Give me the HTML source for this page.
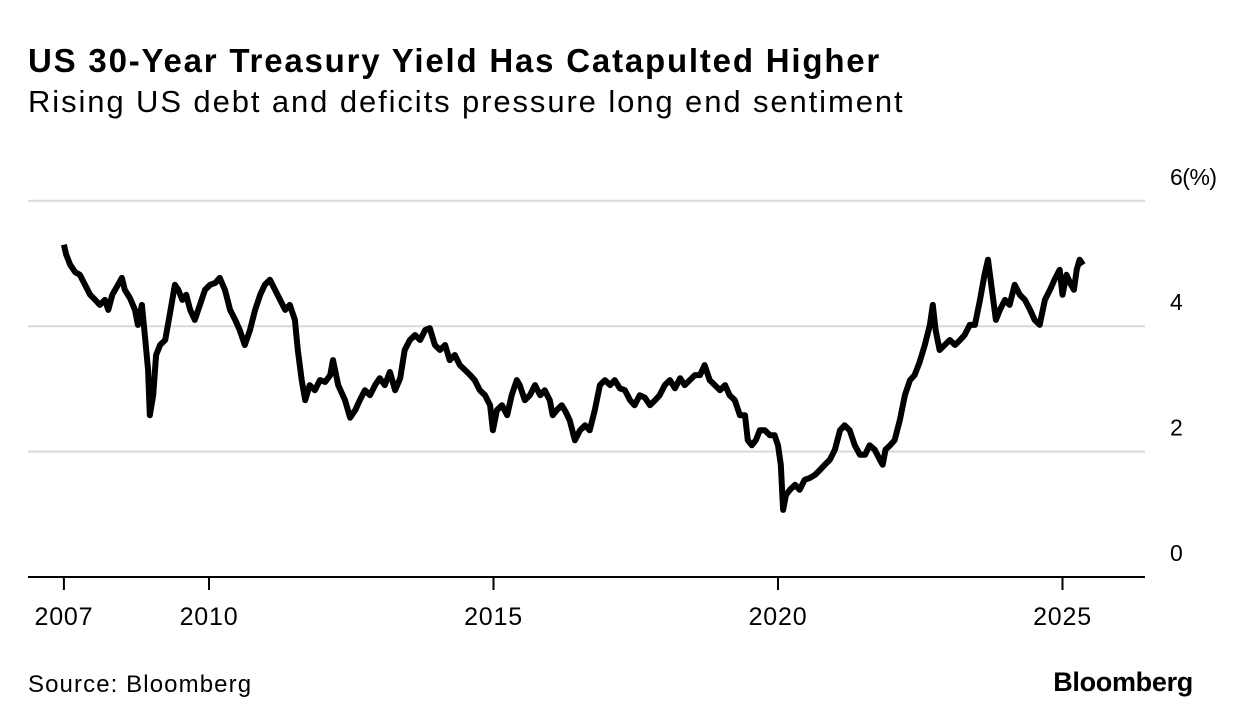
<!DOCTYPE html>
<html><head><meta charset="utf-8">
<style>
body{margin:0;background:#fff;width:1233px;height:726px;overflow:hidden;font-family:"Liberation Sans",sans-serif;}
.t{position:absolute;left:28px;top:42px;font-size:33px;font-weight:bold;color:#000;letter-spacing:1.8px}
.s{position:absolute;left:28px;top:84px;font-size:31px;color:#000;letter-spacing:1.9px}
.src{position:absolute;left:28px;top:671px;font-size:24px;color:#000;letter-spacing:1.1px}
.bb{position:absolute;right:40px;top:667px;font-size:27px;font-weight:bold;color:#000;letter-spacing:-0.3px}
</style></head><body>
<div class="t">US 30-Year Treasury Yield Has Catapulted Higher</div>
<div class="s">Rising US debt and deficits pressure long end sentiment</div>
<svg id="c" width="1233" height="726" style="position:absolute;left:0;top:0"></svg>
<div class="src">Source: Bloomberg</div>
<div class="bb">Bloomberg</div>
<script>
const dates=[2007.45,2007.49,2007.56,2007.65,2007.73,2007.82,2007.91,2008.00,2008.08,2008.17,2008.23,2008.30,2008.40,2008.47,2008.52,2008.61,2008.70,2008.75,2008.82,2008.88,2008.93,2008.96,2009.02,2009.07,2009.14,2009.23,2009.31,2009.40,2009.46,2009.53,2009.60,2009.67,2009.75,2009.84,2009.93,2010.02,2010.11,2010.19,2010.28,2010.37,2010.46,2010.54,2010.63,2010.72,2010.81,2010.90,2010.98,2011.07,2011.16,2011.25,2011.34,2011.42,2011.51,2011.56,2011.63,2011.69,2011.77,2011.86,2011.95,2012.04,2012.13,2012.18,2012.27,2012.39,2012.48,2012.57,2012.65,2012.74,2012.83,2012.92,2013.00,2013.09,2013.18,2013.27,2013.36,2013.44,2013.53,2013.62,2013.71,2013.80,2013.88,2013.97,2014.06,2014.15,2014.23,2014.32,2014.41,2014.50,2014.59,2014.67,2014.76,2014.85,2014.94,2014.99,2015.06,2015.15,2015.24,2015.32,2015.41,2015.46,2015.55,2015.64,2015.73,2015.82,2015.90,2015.99,2016.04,2016.11,2016.20,2016.27,2016.34,2016.43,2016.52,2016.61,2016.69,2016.78,2016.87,2016.96,2017.05,2017.13,2017.22,2017.31,2017.40,2017.48,2017.57,2017.66,2017.75,2017.84,2017.92,2018.01,2018.10,2018.19,2018.28,2018.36,2018.45,2018.54,2018.63,2018.71,2018.80,2018.89,2018.98,2019.07,2019.15,2019.24,2019.33,2019.42,2019.47,2019.54,2019.61,2019.68,2019.77,2019.86,2019.94,2020.00,2020.05,2020.09,2020.14,2020.21,2020.30,2020.38,2020.47,2020.56,2020.65,2020.74,2020.82,2020.91,2021.00,2021.09,2021.17,2021.26,2021.35,2021.44,2021.53,2021.61,2021.70,2021.79,2021.84,2021.89,2021.97,2022.05,2022.14,2022.23,2022.32,2022.40,2022.49,2022.58,2022.67,2022.72,2022.77,2022.84,2022.93,2023.02,2023.11,2023.20,2023.28,2023.37,2023.46,2023.55,2023.63,2023.69,2023.76,2023.83,2023.90,2023.99,2024.07,2024.16,2024.25,2024.34,2024.43,2024.51,2024.60,2024.69,2024.78,2024.86,2024.95,2025.00,2025.07,2025.15,2025.20,2025.25,2025.30,2025.36];
const yields=[5.30,5.14,4.98,4.86,4.82,4.66,4.50,4.42,4.34,4.42,4.26,4.50,4.66,4.77,4.58,4.45,4.26,4.02,4.34,3.78,3.30,2.58,2.90,3.54,3.70,3.78,4.18,4.66,4.58,4.42,4.50,4.26,4.10,4.34,4.58,4.66,4.69,4.77,4.58,4.26,4.10,3.94,3.70,3.94,4.26,4.50,4.66,4.74,4.58,4.42,4.26,4.34,4.10,3.62,3.14,2.82,3.06,2.98,3.14,3.11,3.22,3.46,3.06,2.82,2.54,2.66,2.82,2.98,2.90,3.06,3.17,3.06,3.27,2.98,3.17,3.62,3.78,3.86,3.78,3.94,3.97,3.70,3.62,3.70,3.46,3.54,3.38,3.30,3.22,3.14,2.98,2.90,2.74,2.34,2.66,2.74,2.58,2.90,3.14,3.06,2.82,2.90,3.06,2.90,2.98,2.82,2.58,2.66,2.74,2.63,2.50,2.18,2.34,2.42,2.34,2.66,3.06,3.14,3.06,3.14,3.01,2.98,2.82,2.74,2.90,2.86,2.74,2.82,2.90,3.06,3.14,3.01,3.17,3.06,3.14,3.22,3.22,3.38,3.14,3.06,2.98,3.06,2.90,2.82,2.58,2.58,2.18,2.10,2.18,2.34,2.34,2.26,2.26,2.10,1.79,1.07,1.31,1.39,1.47,1.39,1.55,1.58,1.63,1.71,1.79,1.87,2.03,2.34,2.42,2.34,2.10,1.95,1.95,2.10,2.03,1.87,1.79,2.03,2.10,2.18,2.50,2.90,3.14,3.22,3.43,3.70,4.02,4.34,3.94,3.62,3.70,3.78,3.70,3.78,3.86,4.02,4.02,4.42,4.82,5.06,4.58,4.10,4.26,4.42,4.34,4.66,4.50,4.42,4.26,4.10,4.02,4.42,4.58,4.74,4.90,4.50,4.82,4.66,4.58,4.90,5.06,4.98];
const yTicks=[0,2,4,6];
const xTicks=[2007,2010,2015,2020,2025];
const xTickPos=[2007.45,2010,2015,2020,2025];
const NS="http://www.w3.org/2000/svg";
const svg=document.getElementById('c');
const X=t=>209+(t-2010)*56.9;
const Y=v=>577-v*62.7;
function mk(tag,attrs){const e=document.createElementNS(NS,tag);for(const k in attrs)e.setAttribute(k,attrs[k]);svg.appendChild(e);return e;}
yTicks.forEach(v=>{
  if(v>0){const g=mk('line',{x1:28,x2:1145,y1:Y(v),y2:Y(v),stroke:'#d9d9d9','stroke-width':2});
  
  }
  const t=mk('text',{x:1170,y:Y(v)-16,'font-size':23,'font-family':'Liberation Sans, sans-serif','text-anchor':'start','letter-spacing':v===6?'-0.5':'0'});
  t.textContent=v===6?'6(%)':String(v);
  
  
});
const ax=mk('line',{x1:28,x2:1145,y1:577,y2:577,stroke:'#000','stroke-width':2});


xTicks.forEach((yr,i)=>{
  const x=X(xTickPos[i]);
  const tk=mk('line',{x1:x,x2:x,y1:577,y2:590,stroke:'#000','stroke-width':2});
  
  
  const t=mk('text',{x:x,y:625,'font-size':25,'font-family':'Liberation Sans, sans-serif','text-anchor':'middle','letter-spacing':'0.8'});
  t.textContent=yr;
  
  
});
const d=dates.map((t,i)=>(i?'L':'M')+X(t).toFixed(1)+','+Y(yields[i]).toFixed(1)).join('');
const p=mk('path',{d:d,fill:'none',stroke:'#000','stroke-width':6,'stroke-linejoin':'round'});


</script>
</body></html>
